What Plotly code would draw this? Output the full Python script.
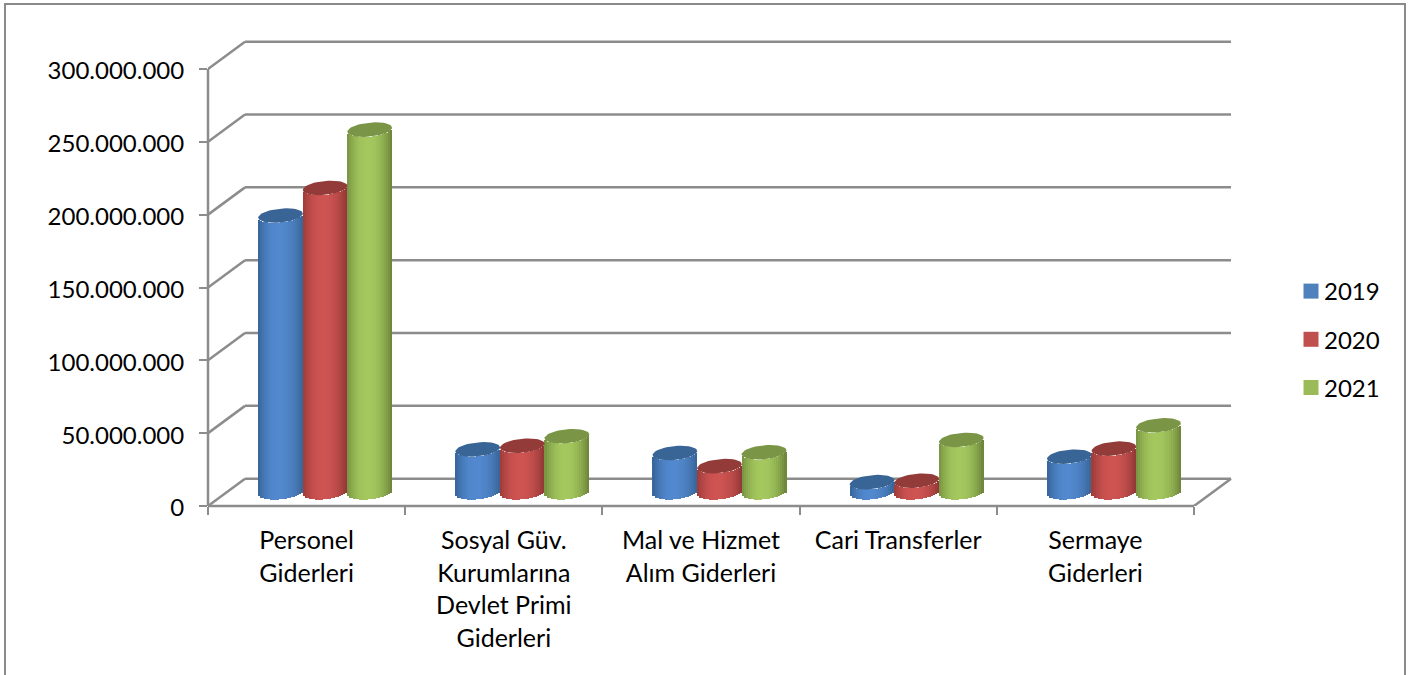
import math
import plotly.graph_objects as go

categories = ["Personel<br>Giderleri", "Sosyal Güv.<br>Kurumlarına<br>Devlet Primi<br>Giderleri",
              "Mal ve Hizmet<br>Alım Giderleri", "Cari Transferler", "Sermaye<br>Giderleri"]
years = ["2019", "2020", "2021"]
values_2019 = [190e6, 29.5e6, 27e6, 7e6, 24.5e6]
values_2020 = [209e6, 32e6, 18e6, 8e6, 30e6]
values_2021 = [249e6, 38.5e6, 27.5e6, 36e6, 46e6]
series = [values_2019, values_2020, values_2021]

legend_colors = ["#4F81BD", "#C0504D", "#9BBB59"]
edge_left = [(42, 84, 132), (136, 48, 46), (100, 124, 52)]
edge_right = [(56, 100, 150), (142, 54, 52), (106, 130, 56)]
mid_colors = [(82, 136, 206), (206, 84, 82), (164, 200, 94)]
top_colors = ["#386595", "#923B39", "#7A9545"]

FONT = "Lato"
FS = 24
L, R, T, B = 208, 1233, 40, 506     # plot area in pixels
PX_X = 197.2                        # pixels per category
PX_Y = 437 / 300e6                  # pixels per value unit
DX = 37 / PX_X                      # depth of the floor
DY = 27.3 / PX_Y
CYL_W = 44.6 / PX_X
A = CYL_W / 2
ELL_B = 7 / PX_Y
TILT = 2 / PX_Y
STRIPS = 22
GRID = "#8C8C8C"

def px2paper_x(p): return (p - L) / (R - L)
def px2paper_y(p): return (B - p) / (B - T)

def shade(s, u):
    base = edge_left[s] if u < 0 else edge_right[s]
    f = 1 - abs((u + 0.08) / 1.08) ** 2.1
    f = max(0, min(1, f))
    c = [round(base[i] + (mid_colors[s][i] - base[i]) * f) for i in range(3)]
    return f"rgb({c[0]},{c[1]},{c[2]})"

fig = go.Figure()

# cylinder bodies: each one is a run of thin bars
for s, vals in enumerate(series):
    for k in range(STRIPS):
        u = -1 + (2 * k + 1) / STRIPS
        off = (s - 1) * CYL_W + u * A
        xs = [i + 0.5 + DX / 2 + off for i in range(len(vals))]
        lift = DY / 2 - ELL_B * math.sqrt(1 - u * u) + TILT * u
        fig.add_bar(x=xs, y=vals, base=[lift] * len(vals), width=CYL_W / STRIPS * 1.12,
                    marker=dict(color=shade(s, u), line=dict(width=0)),
                    showlegend=False, hoverinfo="skip")

# cylinder tops
for s, vals in enumerate(series):
    for i, v in enumerate(vals):
        cx = i + 0.5 + DX / 2 + (s - 1) * CYL_W
        th = [2 * math.pi * t / 48 for t in range(49)]
        fig.add_scatter(x=[cx + A * math.cos(t) for t in th],
                        y=[v + DY / 2 + ELL_B * math.sin(t) + TILT * math.cos(t) for t in th],
                        mode="lines", fill="toself", fillcolor=top_colors[s],
                        line=dict(width=0, color=top_colors[s]),
                        showlegend=False, hoverinfo="skip")

# legend
for s, y in enumerate(years):
    fig.add_scatter(x=[None], y=[None], mode="markers", name=y, legendgroup=y,
                    marker=dict(symbol="square", size=15, color=legend_colors[s]))

shapes = []
def line(x0, y0, x1, y1, xref="x", yref="y"):
    shapes.append(dict(type="line", x0=x0, y0=y0, x1=x1, y1=y1, xref=xref, yref=yref,
                       layer="below", line=dict(color=GRID, width=2.5)))

for v in range(0, 300000001, 50000000):
    line(DX, v + DY, 5 + DX, v + DY)
    line(0, v, DX, v + DY)
line(0, 0, 0, 300e6, xref="paper")
line(0, 0, 5, 0, yref="paper")
line(5, 0, 5 + DX, DY)

# outer frame, open at the bottom
fx0, fx1 = px2paper_x(5), px2paper_x(1405)
fy0, fy1 = px2paper_y(4), px2paper_y(680)
shapes.append(dict(type="path", xref="paper", yref="paper",
                   path=f"M {fx0} {fy1} L {fx0} {fy0} L {fx1} {fy0} L {fx1} {fy1}",
                   line=dict(color="#8A8A8A", width=2), layer="below"))

fig.update_layout(
    width=1417, height=675, template="none",
    paper_bgcolor="white", plot_bgcolor="white",
    margin=dict(l=L, r=1417 - R, t=T, b=675 - B, pad=0, autoexpand=False),
    barmode="overlay", bargap=0, separators=",.",
    font=dict(family=FONT, size=FS, color="#000000"),
    shapes=shapes,
    showlegend=True,
    legend=dict(x=px2paper_x(1284), y=px2paper_y(269), xanchor="left", yanchor="top",
                traceorder="grouped", tracegroupgap=14, bgcolor="rgba(0,0,0,0)",
                font=dict(family=FONT, size=FS)),
    xaxis=dict(range=[0, (R - L) / PX_X], tickmode="array",
               tickvals=[i + 0.5 for i in range(5)], ticktext=categories,
               ticks="", showgrid=False, zeroline=False, showline=False,
               ticklabelstandoff=17, tickangle=0, tickfont=dict(family=FONT, size=25),
               minor=dict(tickmode="array", tickvals=[0, 1, 2, 3, 4, 5], ticks="outside",
                          ticklen=8, tickwidth=2, tickcolor=GRID, showgrid=False)),
    yaxis=dict(range=[0, (B - T) / PX_Y], tick0=0, dtick=50e6, tickformat=",d",
               ticks="outside", ticklen=8, tickwidth=2, tickcolor=GRID,
               showgrid=False, zeroline=False, showline=False,
               ticklabelstandoff=10, ticklabelshift=2),
)

post = """document.body.style.margin='0';document.body.style.overflow='hidden';
function nudge(){document.querySelectorAll('.legendsymbols').forEach(function(n){n.setAttribute('transform','translate(7,0)');});}
nudge();setTimeout(nudge,0);setTimeout(nudge,200);"""
fig.write_html("out.html", post_script=post, config={"displayModeBar": False})
